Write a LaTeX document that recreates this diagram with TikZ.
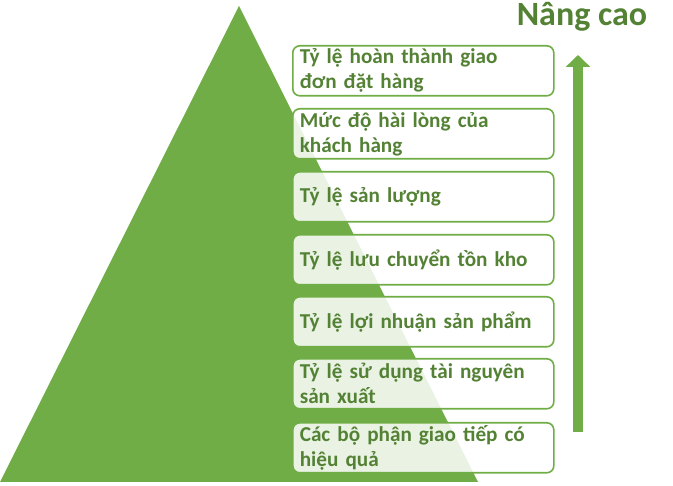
\documentclass[tikz,border=0pt]{standalone}
\usepackage{fontspec}
\setmainfont{Carlito}
\usetikzlibrary{arrows.meta}
\definecolor{leafgreen}{HTML}{70AD47}
\definecolor{darkleaf}{HTML}{548235}
\tikzset{
    kpibox/.style={draw=leafgreen, line width=1.6pt, rounded corners=7pt,
        fill=white, fill opacity=0.85, text opacity=1, text=darkleaf,
        font=\fontsize{21.2}{25}\selectfont\bfseries, text width=247pt,
        minimum height=50pt, inner xsep=7pt, inner ysep=0pt,
        align=left, anchor=north west}
}
\begin{document}
\begin{tikzpicture}[x=1pt,y=-1pt]
    \useasboundingbox (0,0) rectangle (673,486);
    % pyramid
    \fill [leafgreen] (0,482) -- (239,6) -- (478,482) -- cycle;
    % levels, top to bottom
    \node[kpibox] (lvl1) at (292,45) {Tỷ lệ hoàn thành giao\\đơn đặt hàng};
    \node[kpibox] (lvl2) at (292,108) {Mức độ hài lòng của\\khách hàng};
    \node[kpibox] (lvl3) at (292,171) {Tỷ lệ sản lượng};
    \node[kpibox] (lvl4) at (292,234) {Tỷ lệ lưu chuyển tồn kho};
    \node[kpibox] (lvl5) at (292,296) {Tỷ lệ lợi nhuận sản phẩm};
    \node[kpibox] (lvl6) at (292,358) {Tỷ lệ sử dụng tài nguyên\\sản xuất};
    \node[kpibox] (lvl7) at (292,422) {Các bộ phận giao tiếp có\\hiệu quả};
    % arrow
    \coordinate (low) at (578,432);
    \coordinate (high) at (578,55);
    \draw[-{Triangle[width=24pt,length=12pt]}, line width=10pt, leafgreen] (low) -- (high);
    \node[font=\fontsize{34}{40}\selectfont\bfseries, text=darkleaf] (title) at (582,17) {Nâng cao};
\end{tikzpicture}
\end{document}
